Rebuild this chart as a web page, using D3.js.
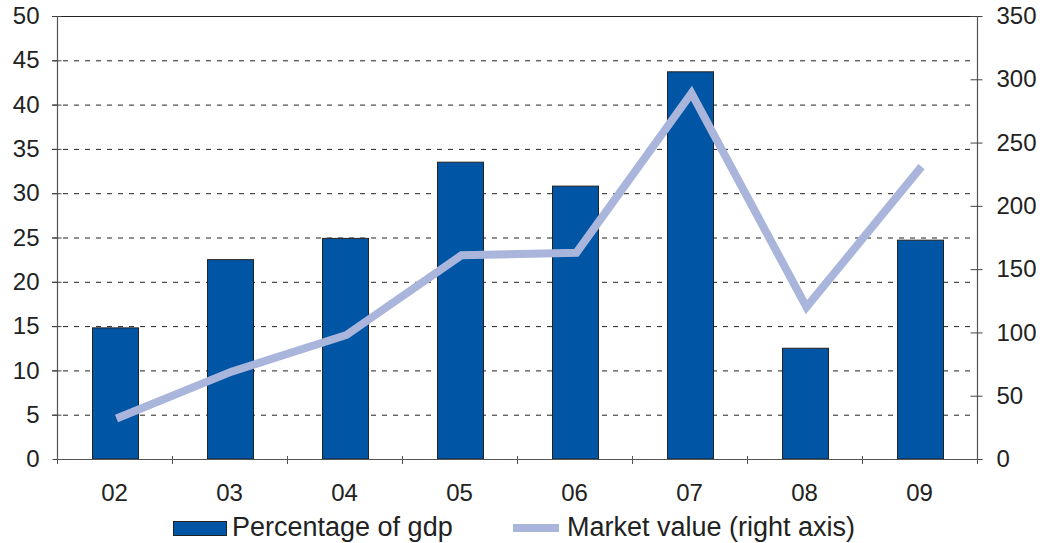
<!DOCTYPE html>
<html><head><meta charset="utf-8">
<script src="https://cdn.jsdelivr.net/npm/d3@7"></script>
<style>body{margin:0;background:#fff}svg text{font-family:"Liberation Sans",Arial,sans-serif;fill:#222}</style>
</head><body><svg id="c" width="1045" height="543"></svg>
<script>
const categories = ["02","03","04","05","06","07","08","09"];
const pctGdp = [14.8, 22.5, 24.9, 33.5, 30.8, 43.7, 12.5, 24.7];
const marketValue = [32, 69, 98, 161, 163, 289, 120, 231];
const leftTicks = [0,5,10,15,20,25,30,35,40,45,50];
const rightTicks = [0,50,100,150,200,250,300,350];

const svg = d3.select("#c");
const L = 57, R = 977, T = 16, B = 459;
const x = d3.scaleBand().domain(categories).range([L, R]).paddingInner(0).paddingOuter(0);
const yL = d3.scaleLinear().domain([0,50]).range([B, T]);
const yR = d3.scaleLinear().domain([0,350]).range([B, T]);

// gridlines
svg.append("g").selectAll("line").data(leftTicks.filter(d=>d>0 && d<50)).join("line")
  .attr("x1", L-5).attr("x2", R-5).attr("y1", d=>yL(d)+0.5).attr("y2", d=>yL(d)+0.5)
  .attr("stroke", "#222").attr("stroke-width", 1).attr("stroke-dasharray", "5,6");
// top border
svg.append("line").attr("x1", L-5).attr("x2", R).attr("y1", T+0.5).attr("y2", T+0.5).attr("stroke", "#222");

// bars
const bw = x.bandwidth()*0.4;
svg.append("g").selectAll("rect").data(categories).join("rect")
  .attr("x", (d)=>x(d)+x.bandwidth()/2-bw/2+1)
  .attr("y", (d,i)=>yL(pctGdp[i]))
  .attr("width", bw).attr("height", (d,i)=>B-yL(pctGdp[i]))
  .attr("fill", "#0055A4").attr("stroke", "#222").attr("stroke-width", 1);

// line
const line = d3.line().x((d,i)=>x(categories[i])+x.bandwidth()/2+2).y(d=>yR(d));
svg.append("path").datum(marketValue).attr("d", line)
  .attr("fill","none").attr("stroke","#A9B5DB").attr("stroke-width",8).attr("stroke-linejoin","miter");

// axes
const axL = svg.append("g").attr("transform", `translate(${L+0.5},0)`)
  .call(d3.axisLeft(yL).tickValues(leftTicks).tickSize(5).tickSizeOuter(0).tickPadding(13));
axL.selectAll(".tick line").attr("x2", -5).attr("x1", 4);
const axR = svg.append("g").attr("transform", `translate(${R+0.5},0)`)
  .call(d3.axisRight(yR).tickValues(rightTicks).tickSize(5).tickSizeOuter(0).tickPadding(14));
axR.selectAll(".tick line").attr("x1", -7);
const axB = svg.append("g").attr("transform", `translate(0,${B+0.5})`)
  .call(d3.axisBottom(x).tickSize(0).tickSizeOuter(0).tickPadding(24));
// category boundary ticks
svg.append("g").selectAll("line").data(d3.range(categories.length+1)).join("line")
  .attr("x1", i=>L+0.5+i*x.bandwidth()).attr("x2", i=>L+0.5+i*x.bandwidth())
  .attr("y1", B-3).attr("y2", B+5).attr("stroke","#555");
[axL, axR, axB].forEach(a=>{
  a.select(".domain").attr("stroke","#555").attr("stroke-width",1.2);
  a.selectAll(".tick line").attr("stroke","#444");
  a.selectAll("text").attr("font-size","24px").attr("fill","#222");
});
axL.select(".domain").attr("d", `M0,${T}V${B}`);
axR.select(".domain").attr("d", `M0,${T}V${B}`);
axB.select(".domain").attr("d", `M${L},0H${R}`);

// legend
const lg = svg.append("g");
lg.append("rect").attr("x",173.5).attr("y",521.5).attr("width",53).attr("height",14)
  .attr("fill","#0055A4").attr("stroke","#222");
lg.append("text").attr("x",232).attr("y",536).attr("font-size","27px").text("Percentage of gdp");
lg.append("line").attr("x1",513).attr("x2",559).attr("y1",528).attr("y2",528)
  .attr("stroke","#A9B5DB").attr("stroke-width",8);
lg.append("text").attr("x",567).attr("y",536).attr("font-size","27px").text("Market value (right axis)");
</script></body></html>
